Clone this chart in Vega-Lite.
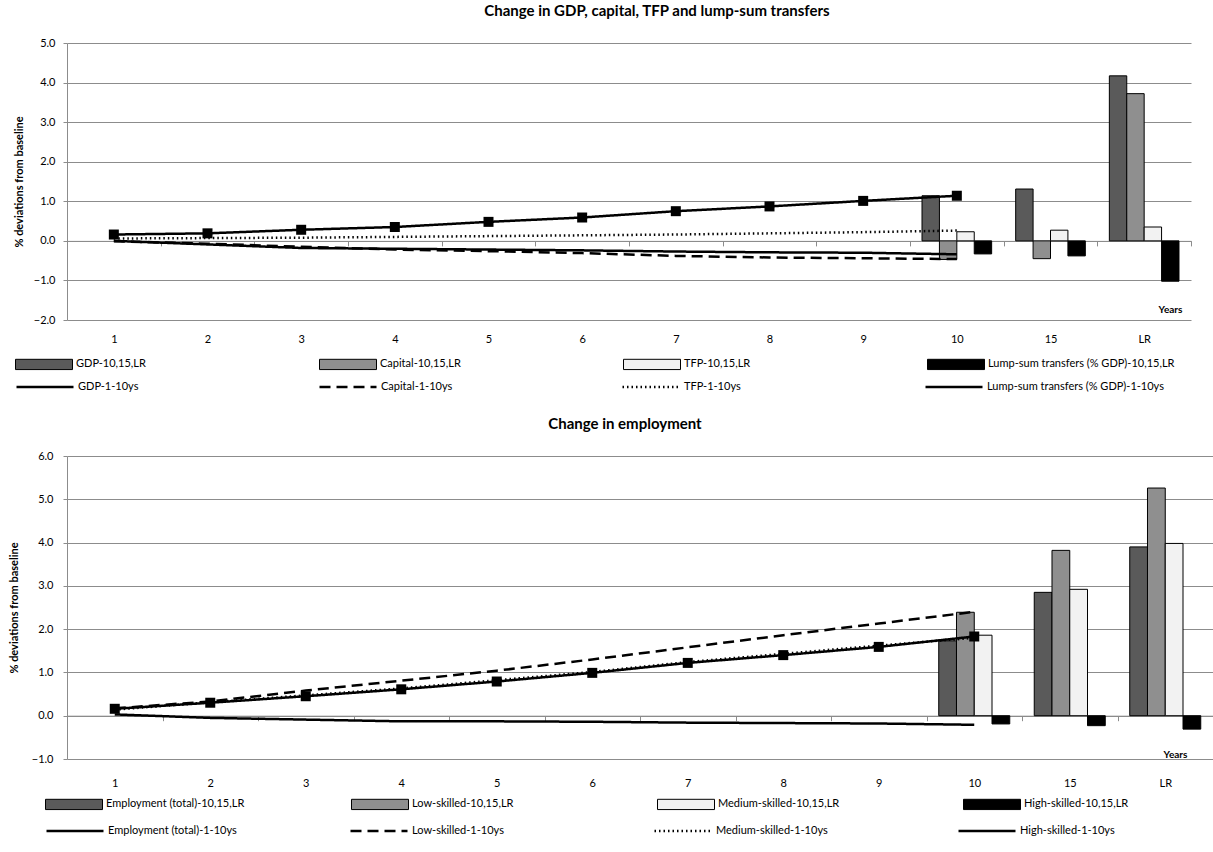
{
  "$schema": "https://vega.github.io/schema/vega-lite/v6.json",
  "padding": {"left": 8, "top": 4, "right": 0, "bottom": 0},
  "background": "white",
  "config": {
    "font": "Lato",
    "view": {"stroke": null},
    "axis": {"labelFont": "Lato", "labelFontSize": 11, "labelColor": "#000", "titleFont": "Lato", "titleColor": "#000", "gridColor": "#8c8c8c", "domainColor": "#8c8c8c", "tickColor": "#8c8c8c"},
    "legend": {"labelFont": "Lato", "labelFontSize": 11, "labelColor": "#000", "labelOffset": 3, "labelLimit": 400},
    "title": {"font": "Lato", "fontSize": 15, "fontWeight": "bold", "color": "#000", "offset": 18},
    "concat": {"spacing": 25}
  },
  "datasets": {
    "top": [
      {"year": "1", "series": "GDP-1-10ys", "kind": "line", "value": 0.16},
      {"year": "2", "series": "GDP-1-10ys", "kind": "line", "value": 0.19},
      {"year": "3", "series": "GDP-1-10ys", "kind": "line", "value": 0.28},
      {"year": "4", "series": "GDP-1-10ys", "kind": "line", "value": 0.35},
      {"year": "5", "series": "GDP-1-10ys", "kind": "line", "value": 0.48},
      {"year": "6", "series": "GDP-1-10ys", "kind": "line", "value": 0.59},
      {"year": "7", "series": "GDP-1-10ys", "kind": "line", "value": 0.75},
      {"year": "8", "series": "GDP-1-10ys", "kind": "line", "value": 0.87},
      {"year": "9", "series": "GDP-1-10ys", "kind": "line", "value": 1.01},
      {"year": "10", "series": "GDP-1-10ys", "kind": "line", "value": 1.14},
      {"year": "1", "series": "Capital-1-10ys", "kind": "line", "value": -0.01},
      {"year": "2", "series": "Capital-1-10ys", "kind": "line", "value": -0.07},
      {"year": "3", "series": "Capital-1-10ys", "kind": "line", "value": -0.15},
      {"year": "4", "series": "Capital-1-10ys", "kind": "line", "value": -0.22},
      {"year": "5", "series": "Capital-1-10ys", "kind": "line", "value": -0.26},
      {"year": "6", "series": "Capital-1-10ys", "kind": "line", "value": -0.31},
      {"year": "7", "series": "Capital-1-10ys", "kind": "line", "value": -0.38},
      {"year": "8", "series": "Capital-1-10ys", "kind": "line", "value": -0.42},
      {"year": "9", "series": "Capital-1-10ys", "kind": "line", "value": -0.44},
      {"year": "10", "series": "Capital-1-10ys", "kind": "line", "value": -0.46},
      {"year": "1", "series": "TFP-1-10ys", "kind": "line", "value": 0.06},
      {"year": "2", "series": "TFP-1-10ys", "kind": "line", "value": 0.07},
      {"year": "3", "series": "TFP-1-10ys", "kind": "line", "value": 0.08},
      {"year": "4", "series": "TFP-1-10ys", "kind": "line", "value": 0.10},
      {"year": "5", "series": "TFP-1-10ys", "kind": "line", "value": 0.12},
      {"year": "6", "series": "TFP-1-10ys", "kind": "line", "value": 0.14},
      {"year": "7", "series": "TFP-1-10ys", "kind": "line", "value": 0.16},
      {"year": "8", "series": "TFP-1-10ys", "kind": "line", "value": 0.19},
      {"year": "9", "series": "TFP-1-10ys", "kind": "line", "value": 0.22},
      {"year": "10", "series": "TFP-1-10ys", "kind": "line", "value": 0.26},
      {"year": "1", "series": "Lump-sum transfers (% GDP)-1-10ys", "kind": "line", "value": 0.0},
      {"year": "2", "series": "Lump-sum transfers (% GDP)-1-10ys", "kind": "line", "value": -0.09},
      {"year": "3", "series": "Lump-sum transfers (% GDP)-1-10ys", "kind": "line", "value": -0.18},
      {"year": "4", "series": "Lump-sum transfers (% GDP)-1-10ys", "kind": "line", "value": -0.20},
      {"year": "5", "series": "Lump-sum transfers (% GDP)-1-10ys", "kind": "line", "value": -0.22},
      {"year": "6", "series": "Lump-sum transfers (% GDP)-1-10ys", "kind": "line", "value": -0.24},
      {"year": "7", "series": "Lump-sum transfers (% GDP)-1-10ys", "kind": "line", "value": -0.27},
      {"year": "8", "series": "Lump-sum transfers (% GDP)-1-10ys", "kind": "line", "value": -0.29},
      {"year": "9", "series": "Lump-sum transfers (% GDP)-1-10ys", "kind": "line", "value": -0.30},
      {"year": "10", "series": "Lump-sum transfers (% GDP)-1-10ys", "kind": "line", "value": -0.34},
      {"year": "10", "series": "GDP-10,15,LR", "kind": "bar", "value": 1.14},
      {"year": "15", "series": "GDP-10,15,LR", "kind": "bar", "value": 1.31},
      {"year": "LR", "series": "GDP-10,15,LR", "kind": "bar", "value": 4.17},
      {"year": "10", "series": "Capital-10,15,LR", "kind": "bar", "value": -0.47},
      {"year": "15", "series": "Capital-10,15,LR", "kind": "bar", "value": -0.45},
      {"year": "LR", "series": "Capital-10,15,LR", "kind": "bar", "value": 3.72},
      {"year": "10", "series": "TFP-10,15,LR", "kind": "bar", "value": 0.23},
      {"year": "15", "series": "TFP-10,15,LR", "kind": "bar", "value": 0.27},
      {"year": "LR", "series": "TFP-10,15,LR", "kind": "bar", "value": 0.35},
      {"year": "10", "series": "Lump-sum transfers (% GDP)-10,15,LR", "kind": "bar", "value": -0.33},
      {"year": "15", "series": "Lump-sum transfers (% GDP)-10,15,LR", "kind": "bar", "value": -0.38},
      {"year": "LR", "series": "Lump-sum transfers (% GDP)-10,15,LR", "kind": "bar", "value": -1.02}
    ],
    "bottom": [
      {"year": "1", "series": "Employment (total)-1-10ys", "kind": "line", "value": 0.16},
      {"year": "2", "series": "Employment (total)-1-10ys", "kind": "line", "value": 0.30},
      {"year": "3", "series": "Employment (total)-1-10ys", "kind": "line", "value": 0.45},
      {"year": "4", "series": "Employment (total)-1-10ys", "kind": "line", "value": 0.61},
      {"year": "5", "series": "Employment (total)-1-10ys", "kind": "line", "value": 0.79},
      {"year": "6", "series": "Employment (total)-1-10ys", "kind": "line", "value": 0.99},
      {"year": "7", "series": "Employment (total)-1-10ys", "kind": "line", "value": 1.22},
      {"year": "8", "series": "Employment (total)-1-10ys", "kind": "line", "value": 1.40},
      {"year": "9", "series": "Employment (total)-1-10ys", "kind": "line", "value": 1.59},
      {"year": "10", "series": "Employment (total)-1-10ys", "kind": "line", "value": 1.83},
      {"year": "1", "series": "Low-skilled-1-10ys", "kind": "line", "value": 0.17},
      {"year": "2", "series": "Low-skilled-1-10ys", "kind": "line", "value": 0.33},
      {"year": "3", "series": "Low-skilled-1-10ys", "kind": "line", "value": 0.58},
      {"year": "4", "series": "Low-skilled-1-10ys", "kind": "line", "value": 0.81},
      {"year": "5", "series": "Low-skilled-1-10ys", "kind": "line", "value": 1.04},
      {"year": "6", "series": "Low-skilled-1-10ys", "kind": "line", "value": 1.30},
      {"year": "7", "series": "Low-skilled-1-10ys", "kind": "line", "value": 1.58},
      {"year": "8", "series": "Low-skilled-1-10ys", "kind": "line", "value": 1.86},
      {"year": "9", "series": "Low-skilled-1-10ys", "kind": "line", "value": 2.13},
      {"year": "10", "series": "Low-skilled-1-10ys", "kind": "line", "value": 2.40},
      {"year": "1", "series": "Medium-skilled-1-10ys", "kind": "line", "value": 0.14},
      {"year": "2", "series": "Medium-skilled-1-10ys", "kind": "line", "value": 0.31},
      {"year": "3", "series": "Medium-skilled-1-10ys", "kind": "line", "value": 0.47},
      {"year": "4", "series": "Medium-skilled-1-10ys", "kind": "line", "value": 0.63},
      {"year": "5", "series": "Medium-skilled-1-10ys", "kind": "line", "value": 0.82},
      {"year": "6", "series": "Medium-skilled-1-10ys", "kind": "line", "value": 1.01},
      {"year": "7", "series": "Medium-skilled-1-10ys", "kind": "line", "value": 1.24},
      {"year": "8", "series": "Medium-skilled-1-10ys", "kind": "line", "value": 1.43},
      {"year": "9", "series": "Medium-skilled-1-10ys", "kind": "line", "value": 1.62},
      {"year": "10", "series": "Medium-skilled-1-10ys", "kind": "line", "value": 1.80},
      {"year": "1", "series": "High-skilled-1-10ys", "kind": "line", "value": 0.03},
      {"year": "2", "series": "High-skilled-1-10ys", "kind": "line", "value": -0.05},
      {"year": "3", "series": "High-skilled-1-10ys", "kind": "line", "value": -0.09},
      {"year": "4", "series": "High-skilled-1-10ys", "kind": "line", "value": -0.13},
      {"year": "5", "series": "High-skilled-1-10ys", "kind": "line", "value": -0.13},
      {"year": "6", "series": "High-skilled-1-10ys", "kind": "line", "value": -0.14},
      {"year": "7", "series": "High-skilled-1-10ys", "kind": "line", "value": -0.16},
      {"year": "8", "series": "High-skilled-1-10ys", "kind": "line", "value": -0.17},
      {"year": "9", "series": "High-skilled-1-10ys", "kind": "line", "value": -0.18},
      {"year": "10", "series": "High-skilled-1-10ys", "kind": "line", "value": -0.21},
      {"year": "10", "series": "Employment (total)-10,15,LR", "kind": "bar", "value": 1.73},
      {"year": "15", "series": "Employment (total)-10,15,LR", "kind": "bar", "value": 2.85},
      {"year": "LR", "series": "Employment (total)-10,15,LR", "kind": "bar", "value": 3.90},
      {"year": "10", "series": "Low-skilled-10,15,LR", "kind": "bar", "value": 2.39},
      {"year": "15", "series": "Low-skilled-10,15,LR", "kind": "bar", "value": 3.82},
      {"year": "LR", "series": "Low-skilled-10,15,LR", "kind": "bar", "value": 5.26},
      {"year": "10", "series": "Medium-skilled-10,15,LR", "kind": "bar", "value": 1.86},
      {"year": "15", "series": "Medium-skilled-10,15,LR", "kind": "bar", "value": 2.92},
      {"year": "LR", "series": "Medium-skilled-10,15,LR", "kind": "bar", "value": 3.98},
      {"year": "10", "series": "High-skilled-10,15,LR", "kind": "bar", "value": -0.19},
      {"year": "15", "series": "High-skilled-10,15,LR", "kind": "bar", "value": -0.23},
      {"year": "LR", "series": "High-skilled-10,15,LR", "kind": "bar", "value": -0.31}
    ]
  },
  "vconcat": [
    {
      "title": {"text": "Change in GDP, capital, TFP and lump-sum transfers", "dx": 28},
      "width": 1124,
      "height": 277,
      "data": {"name": "top"},
      "encoding": {
        "x": {"field": "year", "type": "ordinal", "sort": ["1", "2", "3", "4", "5", "6", "7", "8", "9", "10", "15", "LR"],
          "scale": {"paddingInner": 0, "paddingOuter": 0},
          "axis": {"title": "Years", "titleFontSize": 10, "titleFontWeight": "bold", "titleX": 1103, "titleY": 69, "titleBaseline": "middle", "titleAlign": "center", "offset": -79.1, "labelAngle": 0, "labelPadding": 88, "tickBand": "extent", "tickSize": 5, "grid": false, "domain": true}},
        "y": {"field": "value", "type": "quantitative", "scale": {"domain": [-2, 5], "nice": false},
          "axis": {"title": "% deviations from baseline", "titleFontSize": 11, "titleFontWeight": "bold", "titlePadding": 9, "values": [-2, -1, 0, 1, 2, 3, 4, 5], "format": ".1f", "tickSize": 4, "labelPadding": 8, "grid": true}}
      },
      "layer": [
        {
          "transform": [{"filter": "datum.kind === 'bar'"}],
          "mark": {"type": "bar", "stroke": "#000", "strokeWidth": 1},
          "encoding": {
            "xOffset": {"field": "series", "type": "nominal", "sort": ["GDP-10,15,LR", "Capital-10,15,LR", "TFP-10,15,LR", "Lump-sum transfers (% GDP)-10,15,LR"], "scale": {"paddingInner": 0, "paddingOuter": 0.69}},
            "fill": {"field": "series", "type": "nominal",
              "scale": {"domain": ["GDP-10,15,LR", "Capital-10,15,LR", "TFP-10,15,LR", "Lump-sum transfers (% GDP)-10,15,LR"], "range": ["#5a5a5a", "#8f8f8f", "#f2f2f2", "#000000"]},
              "legend": {"title": null, "orient": "none", "legendX": -52, "legendY": 292, "direction": "horizontal", "columns": 4, "gridAlign": "all", "columnPadding": 54, "symbolType": "M-1,-0.18L1,-0.18L1,0.18L-1,0.18Z", "symbolSize": 3249, "symbolStrokeColor": "#000", "symbolStrokeWidth": 1}}
          }
        },
        {
          "transform": [{"filter": "datum.kind === 'line'"}],
          "mark": {"type": "line", "color": "#000", "strokeWidth": 2.5},
          "encoding": {
            "strokeDash": {"field": "series", "type": "nominal",
              "scale": {"domain": ["GDP-1-10ys", "Capital-1-10ys", "TFP-1-10ys", "Lump-sum transfers (% GDP)-1-10ys"], "range": [[1, 0], [11, 6], [1.5, 3], [1, 0]]},
              "legend": {"title": null, "orient": "none", "legendX": -52, "legendY": 314, "direction": "horizontal", "columns": 4, "gridAlign": "all", "columnPadding": 59, "symbolType": "stroke", "symbolSize": 3249, "symbolStrokeColor": "#000", "symbolStrokeWidth": 2.5}}
          }
        },
        {
          "transform": [{"filter": "datum.series === 'GDP-1-10ys'"}],
          "mark": {"type": "point", "shape": "square", "filled": true, "color": "#000", "size": 100, "opacity": 1},
          "encoding": {}
        }
      ]
    },
    {
      "title": {"text": "Change in employment", "dx": -15},
      "width": 1146,
      "height": 303,
      "data": {"name": "bottom"},
      "encoding": {
        "x": {"field": "year", "type": "ordinal", "sort": ["1", "2", "3", "4", "5", "6", "7", "8", "9", "10", "15", "LR"],
          "scale": {"paddingInner": 0, "paddingOuter": 0},
          "axis": {"title": "Years", "titleFontSize": 10, "titleFontWeight": "bold", "titleX": 1108, "titleY": 39, "titleBaseline": "middle", "titleAlign": "center", "offset": -43.3, "labelAngle": 0, "labelPadding": 57, "tickBand": "extent", "tickSize": 5, "grid": false, "domain": true}},
        "y": {"field": "value", "type": "quantitative", "scale": {"domain": [-1, 6], "nice": false},
          "axis": {"title": "% deviations from baseline", "titleFontSize": 11, "titleFontWeight": "bold", "titlePadding": 12, "values": [-1, 0, 1, 2, 3, 4, 5, 6], "format": ".1f", "tickSize": 4, "labelPadding": 10, "grid": true}}
      },
      "layer": [
        {
          "transform": [{"filter": "datum.kind === 'bar'"}],
          "mark": {"type": "bar", "stroke": "#000", "strokeWidth": 1},
          "encoding": {
            "xOffset": {"field": "series", "type": "nominal", "sort": ["Employment (total)-10,15,LR", "Low-skilled-10,15,LR", "Medium-skilled-10,15,LR", "High-skilled-10,15,LR"], "scale": {"paddingInner": 0, "paddingOuter": 0.69}},
            "fill": {"field": "series", "type": "nominal",
              "scale": {"domain": ["Employment (total)-10,15,LR", "Low-skilled-10,15,LR", "Medium-skilled-10,15,LR", "High-skilled-10,15,LR"], "range": ["#5a5a5a", "#8f8f8f", "#f2f2f2", "#000000"]},
              "legend": {"title": null, "orient": "none", "legendX": -22, "legendY": 319, "direction": "horizontal", "columns": 4, "gridAlign": "all", "columnPadding": 104, "symbolType": "M-1,-0.18L1,-0.18L1,0.18L-1,0.18Z", "symbolSize": 3249, "symbolStrokeColor": "#000", "symbolStrokeWidth": 1}}
          }
        },
        {
          "transform": [{"filter": "datum.kind === 'line'"}],
          "mark": {"type": "line", "color": "#000", "strokeWidth": 2.5},
          "encoding": {
            "strokeDash": {"field": "series", "type": "nominal",
              "scale": {"domain": ["Employment (total)-1-10ys", "Low-skilled-1-10ys", "Medium-skilled-1-10ys", "High-skilled-1-10ys"], "range": [[1, 0], [11, 6], [1.5, 3], [1, 0]]},
              "legend": {"title": null, "orient": "none", "legendX": -22, "legendY": 345, "direction": "horizontal", "columns": 4, "gridAlign": "all", "columnPadding": 108, "symbolType": "stroke", "symbolSize": 3249, "symbolStrokeColor": "#000", "symbolStrokeWidth": 2.5}}
          }
        },
        {
          "transform": [{"filter": "datum.series === 'Employment (total)-1-10ys'"}],
          "mark": {"type": "point", "shape": "square", "filled": true, "color": "#000", "size": 100, "opacity": 1},
          "encoding": {}
        }
      ]
    }
  ],
  "resolve": {
    "scale": {"x": "independent", "y": "independent", "fill": "independent", "strokeDash": "independent", "xOffset": "independent"},
    "legend": {"fill": "independent", "strokeDash": "independent"}
  }
}
